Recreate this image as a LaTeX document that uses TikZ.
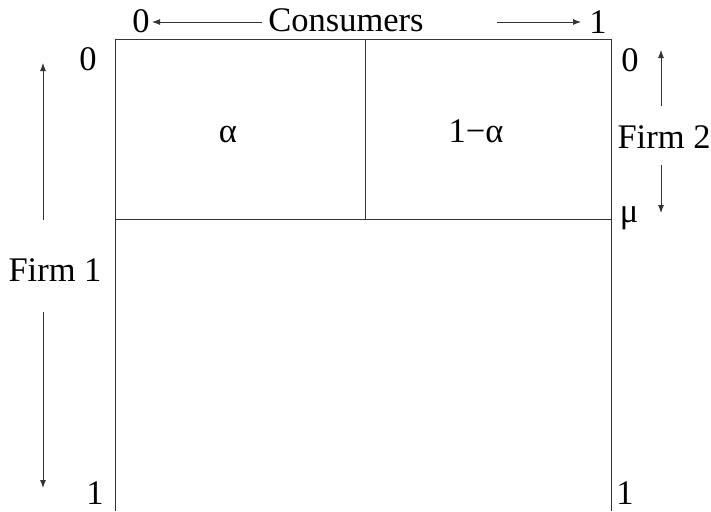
\documentclass[tikz,border=0pt]{standalone}
\usepackage{fontspec}
\setmainfont{Liberation Serif}
\usetikzlibrary{arrows.meta}
\tikzset{
  lbl/.style={inner sep=0pt, font=\fontsize{34.5}{34.5}\selectfont},
  frame/.style={draw=black!80, line width=1pt},
  arr/.style={draw=black!80, line width=0.9pt, -{Latex[length=8pt,width=6pt]}}
}
\begin{document}
\begin{tikzpicture}[x=1pt,y=-1pt]
\useasboundingbox (0,0) rectangle (711,511);
% frame
\coordinate (tl) at (115,40);
\coordinate (tr) at (611,40);
\coordinate (bl) at (115,511);
\coordinate (br) at (611,511);
\coordinate (ml) at (115,219);
\coordinate (mr) at (611,219);
\coordinate (tm) at (365,40);
\coordinate (mm) at (365,219);
\draw[frame] (bl) -- (tl) -- (tr) -- (br);
\draw[frame] (ml) -- (mr);
\draw[frame] (tm) -- (mm);
% top labels
\node[lbl] (c0) at (141,21) {0};
\node[lbl] (cons) at (346,20) {Consumers};
\node[lbl] (c1) at (598,22) {1};
\coordinate (ca) at (262,22);
\coordinate (cb) at (152,22);
\coordinate (cc) at (497,22);
\coordinate (cd) at (581,22);
\draw[arr] (ca) -- (cb);
\draw[arr] (cc) -- (cd);
% cells
\node[lbl, anchor=base] (alpha) at (228,142) {α};
\node[lbl, anchor=base] (oneminus) at (476,142) {1−α};
% firm 1
\node[lbl] (f10) at (88,59) {0};
\node[lbl] (f1) at (55,270) {Firm 1};
\node[lbl] (f11) at (95,493) {1};
\coordinate (la) at (43,220);
\coordinate (lb) at (43,63);
\coordinate (lc) at (43,312);
\coordinate (ld) at (43,488);
\draw[arr] (la) -- (lb);
\draw[arr] (lc) -- (ld);
% firm 2
\node[lbl] (f20) at (630,60) {0};
\node[lbl] (f2) at (664,137) {Firm 2};
\node[lbl] (mu) at (629,218) {μ};
\node[lbl] (f21) at (625,493) {1};
\coordinate (ra) at (661,106);
\coordinate (rb) at (661,50);
\coordinate (rc) at (661,165);
\coordinate (rd) at (661,213);
\draw[arr] (ra) -- (rb);
\draw[arr] (rc) -- (rd);
\end{tikzpicture}
\end{document}
